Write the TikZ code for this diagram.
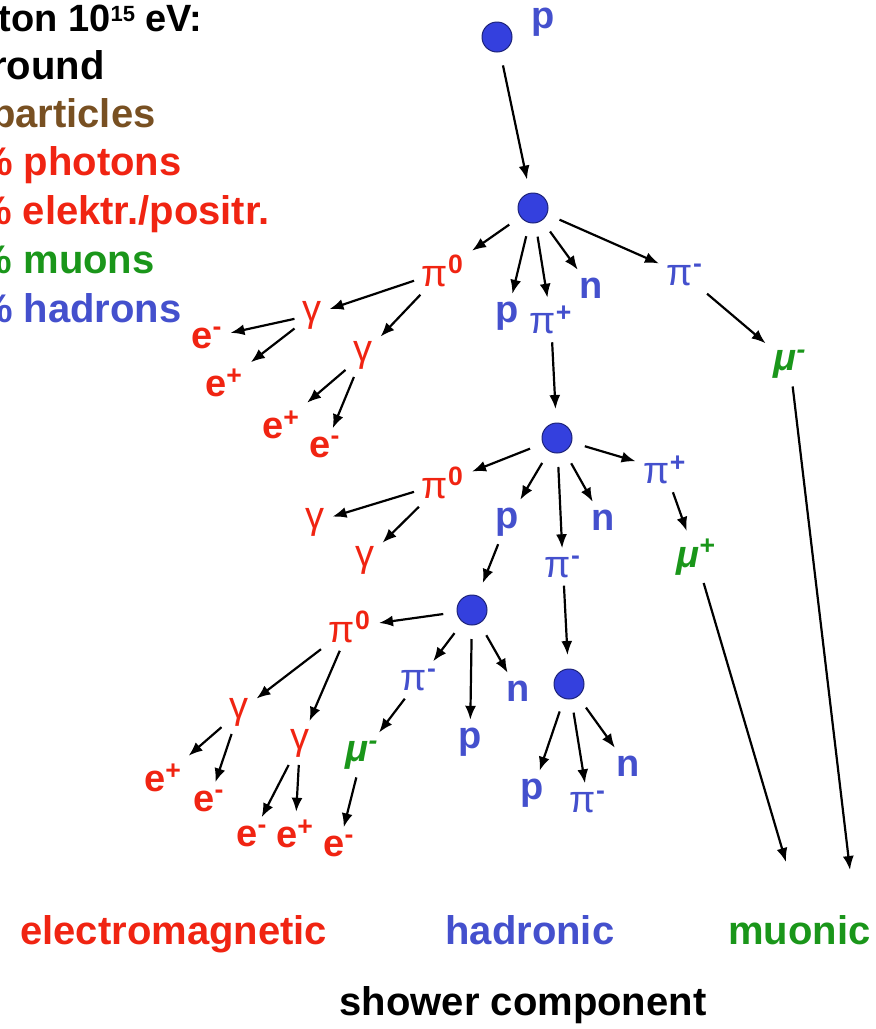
\documentclass[tikz,border=0pt]{standalone}
\usepackage{fontspec}
\setmainfont{Liberation Sans}
\usetikzlibrary{arrows.meta}

\tikzset{
  part/.style={inner sep=1pt,outer sep=3pt,font=\fontsize{19}{22}\selectfont\bfseries},
  em/.style={part,text=lred},
  had/.style={part,text=lblue},
  muo/.style={part,text=lgreen,font=\fontsize{19}{22}\selectfont\bfseries\itshape},
  vtx/.style={circle,fill=ldot,draw=ldot!55!black,line width=0.5pt,minimum size=15pt,inner sep=0pt,outer sep=7pt},
  decay/.style={-{Latex[length=7pt,width=5.5pt]},line width=1.1pt},
  legend/.style={anchor=base east,inner sep=0pt,font=\fontsize{20}{24}\selectfont\bfseries},
  comp/.style={inner sep=0pt,font=\fontsize{20}{24}\selectfont\bfseries}
}

\begin{document}
\begin{tikzpicture}[x=0.5pt,y=-0.5pt]
  \definecolor{lred}{RGB}{240,36,18}
  \definecolor{lblue}{RGB}{68,80,205}
  \definecolor{ldot}{RGB}{52,64,222}
  \definecolor{lgreen}{RGB}{26,150,26}
  \definecolor{lbrown}{RGB}{120,80,34}
  \useasboundingbox (0,0) rectangle (876,1029);
  \clip (0,0) rectangle (876,1029);

  \node[legend,font=\fontsize{19}{22}\selectfont\bfseries] (lgtitle) at (203,31) {ton 10\raisebox{5pt}{\fontsize{11}{11}\selectfont 15} eV:};
  \node[legend] (lgground) at (105,79) {round};
  \node[legend,text=lbrown] (lgpart) at (156,127) {particles};
  \node[legend,text=lred] (lgphot) at (182,175) {\% photons};
  \node[legend,text=lred] (lgelec) at (270,224) {\% elektr./positr.};
  \node[legend,text=lgreen] (lgmuon) at (155,273) {\% muons};
  \node[legend,text=lblue] (lghad) at (182,322) {\% hadrons};

  \node[vtx] (v1) at (497,37) {};
  \node[had] (p0) at (543,22) {p};
  \node[vtx] (v2) at (533,208) {};
  \node[em] (pz1) at (443,271) {{\mdseries π}\textsuperscript{0}};
  \node[had] (p1) at (507,316) {p};
  \node[had] (pp1) at (551,320) {{\mdseries π}\textsuperscript{+}};
  \node[had] (n1) at (591,288) {n};
  \node[had] (pm1) at (685,275) {{\mdseries π}\textsuperscript{-}};
  \node[muo] (mum1) at (790,364) {μ\textsuperscript{-}};
  \node[em] (g1) at (312,315) {\mdseries γ};
  \node[em] (g2) at (363,355) {\mdseries γ};
  \node[em] (e1) at (207,338) {e\textsuperscript{-}};
  \node[em] (e2) at (224,383) {e\textsuperscript{+}};
  \node[em] (e3) at (281,425) {e\textsuperscript{+}};
  \node[em] (e4) at (325,447) {e\textsuperscript{-}};

  \node[vtx] (v3) at (557,438) {};
  \node[em] (pz2) at (443,483) {{\mdseries π}\textsuperscript{0}};
  \node[had] (p2) at (507,522) {p};
  \node[had] (n2) at (603,520) {n};
  \node[had] (pm2) at (563,567) {{\mdseries π}\textsuperscript{-}};
  \node[had] (pp2) at (665,470) {{\mdseries π}\textsuperscript{+}};
  \node[muo] (mup2) at (696,557) {μ\textsuperscript{+}};
  \node[em] (g3) at (315,522) {\mdseries γ};
  \node[em] (g4) at (365,560) {\mdseries γ};

  \node[vtx] (v4) at (472,610) {};
  \node[em] (pz3) at (350,627) {{\mdseries π}\textsuperscript{0}};
  \node[had] (pm3) at (419,680) {{\mdseries π}\textsuperscript{-}};
  \node[had] (p3) at (470,742) {p};
  \node[had] (n3) at (518,691) {n};
  \node[muo] (mum3) at (362,755) {μ\textsuperscript{-}};
  \node[em] (g5) at (239,712) {\mdseries γ};
  \node[em] (g6) at (300,743) {\mdseries γ};
  \node[em] (e5) at (163,778) {e\textsuperscript{+}};
  \node[em] (e6) at (209,801) {e\textsuperscript{-}};
  \node[em] (e7) at (252,836) {e\textsuperscript{-}};
  \node[em] (e8) at (295,834) {e\textsuperscript{+}};
  \node[em] (e9) at (339,846) {e\textsuperscript{-}};

  \node[vtx] (v5) at (569,684) {};
  \node[had] (p4) at (532,793) {p};
  \node[had] (pm4) at (588,802) {{\mdseries π}\textsuperscript{-}};
  \node[had] (n4) at (628,766) {n};

  \coordinate (endmu1) at (850,870);
  \coordinate (endmu2) at (786,862);

  \draw[decay] (v1) -- (v2);
  \draw[decay] (v2) -- (pz1);
  \draw[decay] (v2) -- (p1);
  \draw[decay] (v2) -- (pp1);
  \draw[decay] (v2) -- (n1);
  \draw[decay] (v2) -- (pm1);
  \draw[decay] (pm1) -- (mum1);
  \draw[decay] (mum1) -- (endmu1);
  \draw[decay] (pz1) -- (g1);
  \draw[decay] (pz1) -- (g2);
  \draw[decay] (g1) -- (e1);
  \draw[decay] (g1) -- (e2);
  \draw[decay] (g2) -- (e3);
  \draw[decay] (g2) -- (e4);
  \draw[decay] (pp1) -- (v3);

  \draw[decay] (v3) -- (pz2);
  \draw[decay] (v3) -- (p2);
  \draw[decay] (v3) -- (pm2);
  \draw[decay] (v3) -- (n2);
  \draw[decay] (v3) -- (pp2);
  \draw[decay] (pp2) -- (mup2);
  \draw[decay] (mup2) -- (endmu2);
  \draw[decay] (pz2) -- (g3);
  \draw[decay] (pz2) -- (g4);
  \draw[decay] (p2) -- (v4);
  \draw[decay] (pm2) -- (v5);

  \draw[decay] (v4) -- (pz3);
  \draw[decay] (v4) -- (pm3);
  \draw[decay] (v4) -- (p3);
  \draw[decay] (v4) -- (n3);
  \draw[decay] (pz3) -- (g5);
  \draw[decay] (pz3) -- (g6);
  \draw[decay] (g5) -- (e5);
  \draw[decay] (g5) -- (e6);
  \draw[decay] (g6) -- (e7);
  \draw[decay] (g6) -- (e8);
  \draw[decay] (pm3) -- (mum3);
  \draw[decay] (mum3) -- (e9);

  \draw[decay] (v5) -- (p4);
  \draw[decay] (v5) -- (pm4);
  \draw[decay] (v5) -- (n4);

  \node[comp,text=lred,anchor=base west] (cem) at (20,944) {electromagnetic};
  \node[comp,text=lblue,anchor=base west] (chad) at (445,944) {hadronic};
  \node[comp,text=lgreen,anchor=base west] (cmu) at (728,944) {muonic};
  \node[comp,anchor=base] (cshow) at (523,1015) {shower component};
\end{tikzpicture}
\end{document}
